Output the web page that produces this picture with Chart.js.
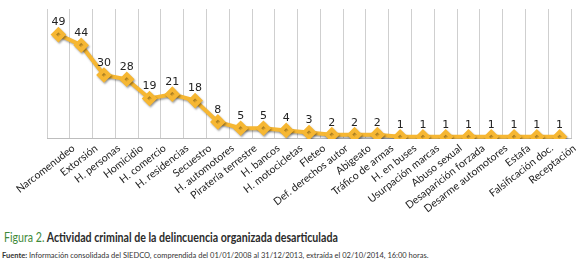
<!DOCTYPE html>
<html>
<head>
<meta charset="utf-8">
<script src="https://cdn.jsdelivr.net/npm/chart.js@4"></script>
<style>
  body { margin: 0; background: #fff; width: 580px; height: 265px; overflow: hidden; }
  #wrap { position: absolute; left: 0; top: 0; width: 580px; height: 218px; }
  #title { position: absolute; left: 4px; top: 230px; font-family: Lato, sans-serif; font-size: 12.5px; font-weight: bold; color: #2b2b2b; white-space: nowrap; transform: scaleX(0.85); transform-origin: left top; }
  #title span { color: #3f8a3a; font-weight: normal; }
  #source { position: absolute; left: 2px; top: 251px; font-family: Lato, sans-serif; font-size: 7.5px; color: #333; white-space: nowrap; }
</style>
</head>
<body>
<div id="wrap"><canvas id="chart"></canvas></div>
<div id="title"><span>Figura 2.</span> Actividad criminal de la delincuencia organizada desarticulada</div>
<div id="source"><b>Fuente:</b> Información consolidada del SIEDCO, comprendida del 01/01/2008 al 31/12/2013, extraída el 02/10/2014, 16:00 horas.</div>
<script>
const categories = ['Narcomenudeo', 'Extorsión', 'H. personas', 'Homicidio', 'H. comercio',
  'H. residencias', 'Secuestro', 'H. automotores', 'Piratería terrestre', 'H. bancos',
  'H. motocicletas', 'Fleteo', 'Def. derechos autor', 'Abigeato', 'Tráfico de armas',
  'H. en buses', 'Usurpación marcas', 'Abuso sexual', 'Desaparición forzada',
  'Desarme automotores', 'Estafa', 'Falsificación doc.', 'Receptación'];
const counts = [49, 44, 30, 28, 19, 21, 18, 8, 5, 5, 4, 3, 2, 2, 2, 1, 1, 1, 1, 1, 1, 1, 1];

// labels drawn above each point
const valueLabels = {
  id: 'valueLabels',
  afterDatasetsDraw(chart) {
    const ctx = chart.ctx;
    const meta = chart.getDatasetMeta(0);
    ctx.save();
    ctx.font = '11px "DejaVu Sans", sans-serif';
    ctx.fillStyle = '#222';
    ctx.textAlign = 'center';
    ctx.textBaseline = 'middle';
    meta.data.forEach((pt, i) => {
      ctx.fillText(String(counts[i]), pt.x, pt.y - 12);
    });
    ctx.restore();
  }
};

const shadow = {
  id: 'shadow',
  beforeDatasetDraw(chart) {
    const ctx = chart.ctx;
    ctx.save();
    ctx.shadowColor = 'rgba(0,0,0,0.35)';
    ctx.shadowBlur = 2;
    ctx.shadowOffsetX = 1;
    ctx.shadowOffsetY = 1.5;
  },
  afterDatasetDraw(chart) {
    chart.ctx.restore();
  }
};

new Chart(document.getElementById('chart'), {
  type: 'line',
  data: {
    labels: categories,
    datasets: [{
      data: counts,
      borderColor: '#f6b733',
      backgroundColor: '#f6b733',
      borderWidth: 4,
      pointStyle: 'rectRot',
      pointRadius: 5,
      pointHoverRadius: 5,
      tension: 0
    }]
  },
  options: {
    responsive: true,
    maintainAspectRatio: false,
    animation: false,
    layout: { padding: 0 },
    plugins: {
      legend: { display: false },
      tooltip: { enabled: false }
    },
    scales: {
      x: {
        offset: true,
        afterFit(scale) {
          scale.paddingLeft = 47;
          scale.paddingRight = 4;
        },
        grid: { offset: true, color: '#cfcfcf', lineWidth: 1, drawTicks: false },
        border: { display: true, color: '#bdbdbd' },
        ticks: {
          autoSkip: false,
          minRotation: 38,
          maxRotation: 38,
          padding: 3,
          labelOffset: 15,
          color: '#222',
          font: { family: 'Lato, sans-serif', size: 10.5 }
        }
      },
      y: {
        display: false,
        min: 0,
        max: 61
      }
    }
  },
  plugins: [shadow, valueLabels]
});
</script>
</body>
</html>
